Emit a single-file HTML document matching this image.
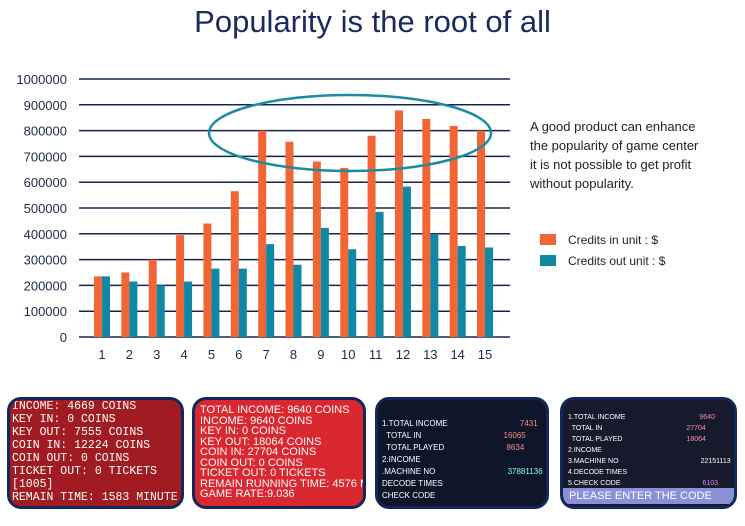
<!DOCTYPE html>
<html><head><style>
body{margin:0;width:745px;height:526px;background:#fff;overflow:hidden;font-family:"Liberation Sans",sans-serif;position:relative}
.t{position:absolute;left:0;width:745px;top:4px;text-align:center;font-size:31px;color:#1b2a5c}
.p{position:absolute;top:397px;height:112px;border:3px solid #13285a;border-radius:14px;overflow:hidden;font-family:"Liberation Mono",monospace;color:#fff;box-sizing:border-box}
.p div{white-space:nowrap}
</style></head><body>
<div class="t">Popularity is the root of all</div>
<svg width="745" height="390" style="position:absolute;left:0;top:0">
<g id="g" stroke="#15254f" stroke-width="1.5"></g>
<g id="b"></g>
<g font-size="13" fill="#1b2a4a" id="l" font-family="Liberation Sans"></g>
<ellipse cx="350" cy="133" rx="141" ry="38" fill="none" stroke="#1e8aa0" stroke-width="2.5"/>
<g font-size="13" fill="#222">
<text x="530" y="131">A good product can enhance</text>
<text x="530" y="150">the popularity of game center</text>
<text x="530" y="169">it is not possible to get profit</text>
<text x="530" y="188">without popularity.</text>
</g>
<rect x="540" y="234" width="16" height="11" fill="#f26535"/>
<rect x="540" y="255" width="16" height="11" fill="#0e88a5"/>
<g font-size="12" fill="#222"><text x="568" y="244">Credits in unit : $</text><text x="568" y="265">Credits out unit : $</text></g>
</svg>
<div class="p" style="left:7px;width:177px;background:#a11b22;font-size:11.5px;line-height:13px;padding:0 0 0 2px">
<div>INCOME: 4669 COINS</div><div>KEY IN: 0 COINS</div><div>KEY OUT: 7555 COINS</div><div>COIN IN: 12224 COINS</div><div>COIN OUT: 0 COINS</div><div>TICKET OUT: 0 TICKETS</div><div>[1005]</div><div>REMAIN TIME: 1583 MINUTE</div></div>
<div class="p" style="left:192px;width:174px;background:#d9282f;font-family:'Liberation Sans',sans-serif;font-size:11px;line-height:10.5px;padding:5px 0 0 5px">
<div>TOTAL INCOME: 9640 COINS</div><div>INCOME: 9640 COINS</div><div>KEY IN: 0 COINS</div><div>KEY OUT: 18064 COINS</div><div>COIN IN: 27704 COINS</div><div>COIN OUT: 0 COINS</div><div>TICKET OUT: 0 TICKETS</div><div>REMAIN RUNNING TIME: 4576 M</div><div>GAME RATE:9.036</div></div>
<div class="p" style="left:375px;width:174px;background:#0f1629;font-family:'Liberation Sans',sans-serif;font-size:8px;line-height:12px;padding:18px 0 0 4px">
<div>1.TOTAL INCOME <span style="margin-left:70px;color:#f88">7431</span></div><div>&nbsp; TOTAL IN <span style="margin-left:80px;color:#f88">16065</span></div><div>&nbsp; TOTAL PLAYED <span style="margin-left:60px;color:#f88">8634</span></div><div>2.INCOME</div><div>.MACHINE NO <span style="margin-left:70px;color:#8fd">37881136</span></div><div>DECODE TIMES</div><div>CHECK CODE</div></div>
<div class="p" style="left:560px;width:177px;background:#161a2c;font-family:'Liberation Sans',sans-serif;font-size:7px;line-height:11px;padding:12px 0 0 5px">
<div>1.TOTAL INCOME <span style="margin-left:72px;color:#f8a">9640</span></div><div>&nbsp; TOTAL IN <span style="margin-left:82px;color:#f8a">27704</span></div><div>&nbsp; TOTAL PLAYED <span style="margin-left:62px;color:#f8a">18064</span></div><div>2.INCOME</div><div>3.MACHINE NO <span style="margin-left:80px">22151113</span></div><div>4.DECODE TIMES</div><div>5.CHECK CODE <span style="margin-left:80px;color:#d8f">6103</span></div>
<div style="position:absolute;left:0;top:88px;width:177px;height:16px;background:#8b8fd8;font-size:11px;line-height:16px;padding-left:6px">PLEASE ENTER THE CODE</div></div>
<script>
var g=document.getElementById('g'),b=document.getElementById('b'),l=document.getElementById('l'),ns='http://www.w3.org/2000/svg';
function el(p,t,a,tx){var e=document.createElementNS(ns,t);for(var k in a)e.setAttribute(k,a[k]);if(tx!=null)e.textContent=tx;p.appendChild(e);}
for(var i=0;i<=10;i++){var y=337-i*25.8;el(g,'line',{x1:79,x2:510,y1:y,y2:y});el(l,'text',{x:67,y:y+5,'text-anchor':'end'},String(i*100000));}
var o=[235,250,300,395,440,565,800,757,680,655,780,878,845,818,800],c=[235,215,200,215,265,265,360,280,423,340,485,583,400,353,347];
for(var i=0;i<15;i++){var x=102+i*27.36;
el(b,'rect',{x:x-8,y:337-o[i]*0.258,width:8,height:o[i]*0.258,fill:'#f26535'});
el(b,'rect',{x:x,y:337-c[i]*0.258,width:8,height:c[i]*0.258,fill:'#0e88a5'});
el(l,'text',{x:x,y:359,'text-anchor':'middle'},String(i+1));}
</script>
</body></html>
